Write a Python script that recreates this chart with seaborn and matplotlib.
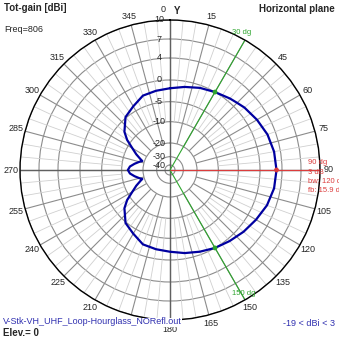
import numpy as np
import matplotlib
matplotlib.use("Agg")
import matplotlib.pyplot as plt
import seaborn as sns

# ---- pattern data: total gain in the horizontal plane -----------------
bearing_deg = [0, 10, 20, 30, 40, 45, 50, 60, 70, 80, 90, 100, 110, 120,
               130, 140, 150, 160, 170, 180, 190, 200, 210, 220, 230, 235,
               240, 245, 250, 252, 255, 260, 265, 270, 275, 280, 285, 288,
               290, 295, 300, 305, 310, 320, 330, 340, 350, 360]
gain_dbi = [-1.9, -1.3, -0.6, 0.0, 0.6, 0.9, 1.3, 1.9, 2.5, 2.85, 3.0, 2.85,
            2.4, 1.7, 1.1, 0.5, 0.0, -0.7, -1.3, -1.9, -2.2, -2.5, -3.8, -4.8,
            -7.2, -9.0, -12.3, -15.2, -18.0, -19.0, -17.8, -15.8, -13.8,
            -12.9, -13.8, -15.8, -17.8, -19.0, -18.0, -15.2, -12.3, -9.0,
            -7.2, -4.8, -3.8, -2.5, -2.2, -1.9]

ring_dbi = [-40, -30, -20, -10, -5, 0, 4, 7, 10]
angle_ticks = list(range(0, 360, 15))

freq_mhz = 806
elevation = 0
model_file = "V-Stk-VH_UHF_Loop-Hourglass_NORefl.out"

peak_bearing = 90
peak_gain = 3.0
beamwidth = 120
halfpower_bearing = [peak_bearing - beamwidth // 2, peak_bearing + beamwidth // 2]
front_back = 15.9

# ---- radial dB scale (compressed towards the centre) ------------------
_knot_db = np.array([-50, -40, -30, -20, -10, -5, 0, 4, 7, 10, 16], float)
_knot_r = np.array([0, 5, 13.3, 27, 48.3, 68.3, 90, 112, 131, 150, 188]) / 150.0


def _fwd(v):
    return np.interp(np.asarray(v, float), _knot_db, _knot_r)


def _inv(r):
    return np.interp(np.asarray(r, float), _knot_r, _knot_db)


sns.set_style("white")
plt.rcParams["font.family"] = ["Liberation Sans", "DejaVu Sans"]

W = H = 339
cx, cy, R = 170, 170, 150
fig = plt.figure(figsize=(W / 100, H / 100), dpi=100)
fig.patch.set_facecolor("white")
ax = fig.add_axes([(cx - R) / W, (H - cy - R) / H, 2 * R / W, 2 * R / H],
                  projection="polar")
ax.set_theta_zero_location("N")
ax.set_theta_direction(-1)
ax.set_rscale("function", functions=(_fwd, _inv))

GRID = "#8c8c8c"
RED = "#dc3c3c"
GREEN = "#2ea52e"
BLUE = "#0000a0"
TXTBLUE = "#3030b0"

# radial spokes: light every 5 deg, darker every 15 deg, axes cross
minor = [a for a in range(0, 360, 5) if a % 15]
ax.vlines(np.deg2rad(minor), -10, 10, colors="#d0d0d0", lw=0.6, zorder=1)
ax.vlines(np.deg2rad(angle_ticks), -20, 10, colors=GRID, lw=0.8, zorder=1.2)
ax.vlines(np.deg2rad([0, 90, 180, 270]), -50, 10, colors="#606060", lw=1.0,
          zorder=1.5)

# beamwidth and peak direction markers
ax.vlines(np.deg2rad(halfpower_bearing), -50, 10, colors=GREEN, lw=0.8, zorder=2)
ax.vlines(np.deg2rad(peak_bearing), -50, 10, colors=RED, lw=0.8, zorder=2)

sns.lineplot(x=np.deg2rad(bearing_deg), y=gain_dbi, sort=False, estimator=None,
             color=BLUE, lw=1.6, ax=ax, zorder=3)
sns.scatterplot(x=np.deg2rad(halfpower_bearing), y=[peak_gain - 3] * 2,
                color=GREEN, s=12, edgecolor="none", ax=ax, zorder=4)
sns.scatterplot(x=[np.deg2rad(peak_bearing)], y=[peak_gain], color=RED, s=12,
                edgecolor="none", ax=ax, zorder=4)

ax.set_rlim(-50, 10)
ax.set_yticks(ring_dbi)
ax.set_yticklabels([])
ax.set_xticks([])
ax.yaxis.grid(True, color=GRID, lw=0.8)
ax.xaxis.grid(False)
ax.spines["polar"].set_color("black")
ax.spines["polar"].set_linewidth(1.0)
ax.set_xlabel("")
ax.set_ylabel("")

FS = 6.5
# ring labels along the 0 deg axis
for v in ring_dbi:
    ax.annotate(f"{v}", xy=(0, v), xytext=(-11, 0), textcoords="offset pixels",
                ha="center", va="center", fontsize=FS, annotation_clip=False,
                zorder=5)

# bearing labels round the rim
for a in angle_ticks:
    if a == 30:
        continue
    t = np.deg2rad(a)
    if a == 0:
        off = (-7, 10)
    else:
        off = (9 * np.sin(t), 9 * np.cos(t))
    ax.annotate(f"{a}", xy=(t, 10), xytext=off, textcoords="offset pixels",
                ha="center", va="center", fontsize=FS, annotation_clip=False)
ax.annotate("Y", xy=(0, 10), xytext=(7, 9), textcoords="offset pixels",
            ha="center", va="center", fontsize=7, fontweight="bold",
            annotation_clip=False)

# peak / beamwidth annotations
info = [f"{peak_bearing} dg", f"{peak_gain:g} dB", f"bw: {beamwidth} dg",
        f"fb: {front_back} dB"]
for i, s in enumerate(info):
    ax.annotate(s, xy=(np.deg2rad(peak_bearing), 10), xytext=(-12, 7 - 9.2 * i),
                textcoords="offset pixels", ha="left", va="center",
                fontsize=5.5, color=RED, annotation_clip=False, zorder=6)
for b, off in zip(halfpower_bearing, [(-3, 8), (-1, 6)]):
    ax.annotate(f"{b} dg", xy=(np.deg2rad(b), 10), xytext=off,
                textcoords="offset pixels", ha="center", va="center",
                fontsize=5.5, color=GREEN, annotation_clip=False, zorder=6)


def px(x, y):
    return x / W, 1 - y / H


fig.text(*px(4, 8), "Tot-gain [dBi]", fontsize=7, fontweight="bold",
         ha="left", va="center")
fig.text(*px(4, 29), f"Freq={freq_mhz}", fontsize=FS, ha="left", va="center")
fig.text(*px(335, 9), "Horizontal plane", fontsize=7, fontweight="bold",
         ha="right", va="center")
fig.text(*px(3, 322), model_file, fontsize=FS, color=TXTBLUE, ha="left",
         va="center", bbox=dict(facecolor="white", edgecolor="none", pad=0),
         zorder=10)
fig.text(*px(3, 333), f"Elev.= {elevation}", fontsize=7, fontweight="bold",
         ha="left", va="center")
fig.text(*px(335, 323), f"{min(gain_dbi):.0f} < dBi < {max(gain_dbi):.0f}",
         fontsize=FS, color=TXTBLUE, ha="right", va="center")

fig.savefig("out.png", dpi=100)
